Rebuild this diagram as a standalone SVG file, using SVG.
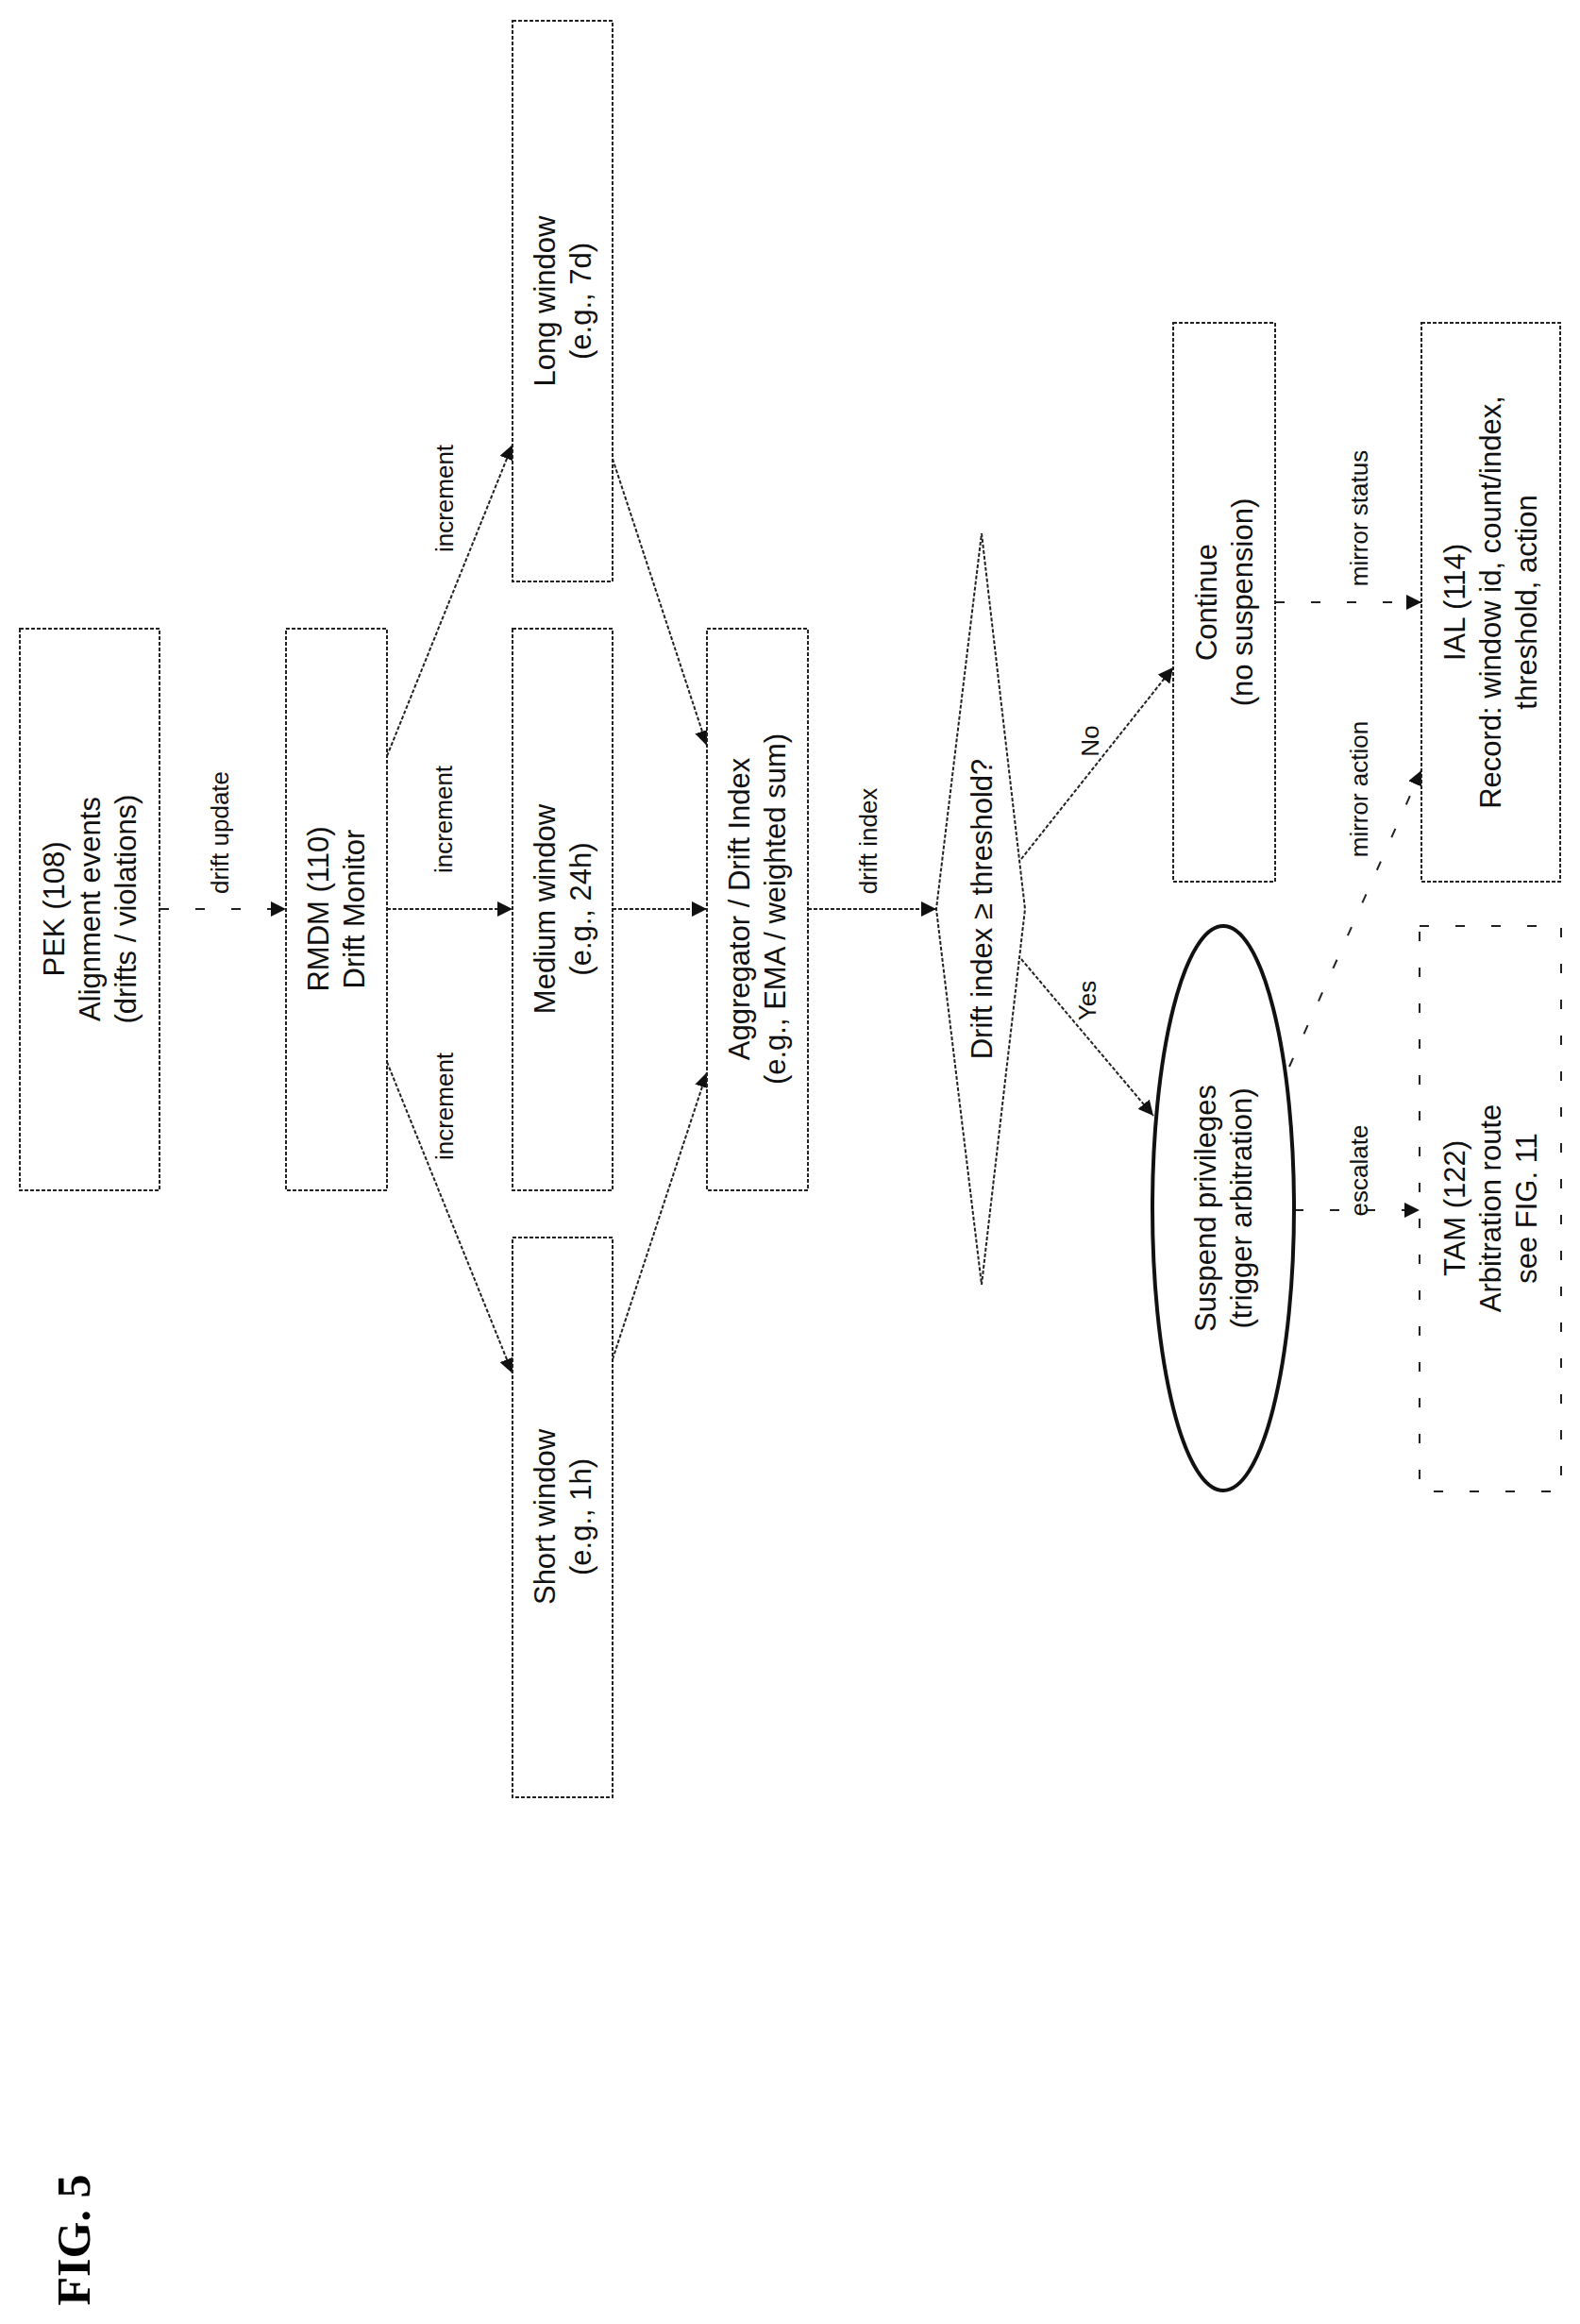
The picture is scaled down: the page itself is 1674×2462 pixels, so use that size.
<svg xmlns="http://www.w3.org/2000/svg" width="1674" height="2462" viewBox="0 0 1674 2462">
<style>
.box{fill:#fff;stroke:#222;stroke-width:2;stroke-dasharray:4 2}
.big{fill:none;stroke:#222;stroke-width:2;stroke-dasharray:10 28}
.t{font-family:"Liberation Sans",Arial,sans-serif;font-size:31px;fill:#111;text-anchor:middle;dominant-baseline:central}
.l{font-family:"Liberation Sans",Arial,sans-serif;font-size:26px;fill:#111;text-anchor:middle;dominant-baseline:central}
.c{fill:none;stroke:#222;stroke-width:2;stroke-dasharray:4 2;marker-end:url(#ah)}
.cb{fill:none;stroke:#222;stroke-width:2;stroke-dasharray:10 28;marker-end:url(#ah)}
</style>
<defs>
<marker id="ah" viewBox="0 0 10 10" refX="10" refY="5" markerWidth="16" markerHeight="16" markerUnits="userSpaceOnUse" orient="auto">
<path d="M0,0 L10,5 L0,10 z" fill="#111"/>
</marker>
</defs>
<rect width="1674" height="2462" fill="#fff"/>
<g id="connectors">
<path class="cb" d="M169,963 L303,963"/>
<path class="c" d="M410,801 L543,471"/>
<path class="c" d="M410,963 L543,963"/>
<path class="c" d="M410,1125 L543,1455"/>
<path class="c" d="M649,486 L749,790"/>
<path class="c" d="M649,963 L749,963"/>
<path class="c" d="M649,1440 L749,1136"/>
<path class="c" d="M856,963 L992,963"/>
<path class="c" d="M1082,910 L1243,707"/>
<path class="c" d="M1082,1016 L1222,1182"/>
<path class="cb" d="M1351,638 L1506,638"/>
<path class="cb" d="M1366,1130 L1506,816"/>
<path class="cb" d="M1371,1282 L1504,1282"/>
<text class="l" transform="translate(233,882) rotate(-90)">drift update</text>
<text class="l" transform="translate(471,528) rotate(-90)">increment</text>
<text class="l" transform="translate(470,868) rotate(-90)">increment</text>
<text class="l" transform="translate(471,1172) rotate(-90)">increment</text>
<text class="l" transform="translate(920,891) rotate(-90)">drift index</text>
<text class="l" transform="translate(1155,785) rotate(-90)">No</text>
<text class="l" transform="translate(1152,1060) rotate(-90)">Yes</text>
<text class="l" transform="translate(1440,549) rotate(-90)">mirror status</text>
<text class="l" transform="translate(1440,836) rotate(-90)">mirror action</text>
<text class="l" transform="translate(1440,1240) rotate(-90)">escalate</text>
</g>
<g id="pek"><rect class="box" x="21" y="666" width="148" height="595"/>
<text class="t" transform="translate(95,963) rotate(-90)"><tspan x="0" dy="-38">PEK (108)</tspan><tspan x="0" dy="38">Alignment events</tspan><tspan x="0" dy="38">(drifts / violations)</tspan></text></g>
<g id="rmdm"><rect class="box" x="303" y="666" width="107" height="595"/>
<text class="t" transform="translate(356,963) rotate(-90)"><tspan x="0" dy="-19">RMDM (110)</tspan><tspan x="0" dy="38">Drift Monitor</tspan></text></g>
<g id="long"><rect class="box" x="543" y="22" width="106" height="594"/>
<text class="t" transform="translate(596,319) rotate(-90)"><tspan x="0" dy="-19">Long window</tspan><tspan x="0" dy="38">(e.g., 7d)</tspan></text></g>
<g id="medium"><rect class="box" x="543" y="666" width="106" height="595"/>
<text class="t" transform="translate(596,963) rotate(-90)"><tspan x="0" dy="-19">Medium window</tspan><tspan x="0" dy="38">(e.g., 24h)</tspan></text></g>
<g id="short"><rect class="box" x="543" y="1311" width="106" height="593"/>
<text class="t" transform="translate(596,1607) rotate(-90)"><tspan x="0" dy="-19">Short window</tspan><tspan x="0" dy="38">(e.g., 1h)</tspan></text></g>
<g id="aggregator"><rect class="box" x="749" y="666" width="107" height="595"/>
<text class="t" transform="translate(802,963) rotate(-90)"><tspan x="0" dy="-19">Aggregator / Drift Index</tspan><tspan x="0" dy="38">(e.g., EMA / weighted sum)</tspan></text></g>
<g id="decision"><polygon class="box" points="1040,565 1086,963 1040,1361 992,963"/>
<text class="t" transform="translate(1040,963) rotate(-90)">Drift index ≥ threshold?</text></g>
<g id="continue"><rect class="box" x="1243" y="342" width="108" height="592"/>
<text class="t" transform="translate(1297,638) rotate(-90)"><tspan x="0" dy="-19">Continue</tspan><tspan x="0" dy="38">(no suspension)</tspan></text></g>
<g id="ial"><rect class="box" x="1506" y="342" width="147" height="592"/>
<text class="t" transform="translate(1579,638) rotate(-90)"><tspan x="0" dy="-38">IAL (114)</tspan><tspan x="0" dy="38">Record: window id, count/index,</tspan><tspan x="0" dy="38">threshold, action</tspan></text></g>
<g id="suspend"><ellipse cx="1296" cy="1280" rx="75" ry="299" fill="#fff" stroke="#111" stroke-width="4"/>
<text class="t" transform="translate(1296,1280) rotate(-90)"><tspan x="0" dy="-19">Suspend privileges</tspan><tspan x="0" dy="38">(trigger arbitration)</tspan></text></g>
<g id="tam"><rect class="big" x="1504" y="981" width="150" height="599"/>
<text class="t" transform="translate(1579,1280) rotate(-90)"><tspan x="0" dy="-38">TAM (122)</tspan><tspan x="0" dy="38">Arbitration route</tspan><tspan x="0" dy="38">see FIG. 11</tspan></text></g>
<g id="figlabel"><text transform="translate(78,2373) rotate(-90)" style="font-family:'Liberation Serif','Times New Roman',serif;font-weight:bold;font-size:50px;text-anchor:middle;dominant-baseline:central">FIG. 5</text></g>
</svg>
